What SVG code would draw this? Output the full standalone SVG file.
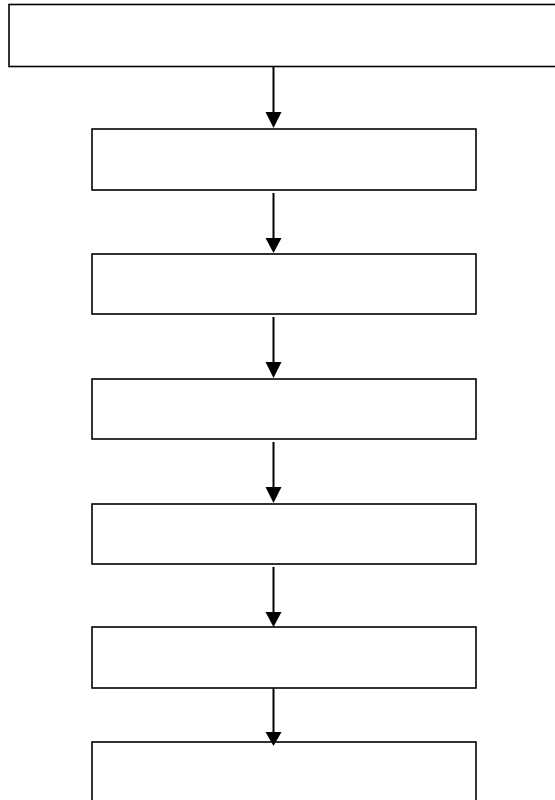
<svg xmlns="http://www.w3.org/2000/svg" width="555" height="800" viewBox="0 0 555 800">
<style>
.box{fill:#fff;stroke:#000;stroke-width:1.6}
.conn{stroke:#000;stroke-width:2;fill:none}
.head{fill:#000}
</style>
<rect width="555" height="800" fill="#fff"/>
<g id="node1"><rect class="box" x="9" y="4.5" width="560" height="62"/></g>
<g id="node2"><rect class="box" x="92" y="129" width="384" height="61"/></g>
<g id="node3"><rect class="box" x="92" y="254" width="384" height="60"/></g>
<g id="node4"><rect class="box" x="92" y="379" width="384" height="60"/></g>
<g id="node5"><rect class="box" x="92" y="504" width="384" height="60"/></g>
<g id="node6"><rect class="box" x="92" y="627" width="384" height="61"/></g>
<g id="node7"><rect class="box" x="92" y="742" width="384" height="80"/></g>
<g id="connectors">
<line class="conn" x1="273.5" y1="66.5" x2="273.5" y2="113"/>
<polygon class="head" points="265.5,112 281.5,112 273.5,128"/>
<line class="conn" x1="273.5" y1="193" x2="273.5" y2="239"/>
<polygon class="head" points="265.5,238 281.5,238 273.5,253"/>
<line class="conn" x1="273.5" y1="317" x2="273.5" y2="363"/>
<polygon class="head" points="265.5,362 281.5,362 273.5,378"/>
<line class="conn" x1="273.5" y1="442" x2="273.5" y2="488"/>
<polygon class="head" points="265.5,487 281.5,487 273.5,503"/>
<line class="conn" x1="273.5" y1="567" x2="273.5" y2="613"/>
<polygon class="head" points="265.5,612 281.5,612 273.5,627"/>
<line class="conn" x1="273.5" y1="688" x2="273.5" y2="733"/>
<polygon class="head" points="265.5,732 281.5,732 273.5,746"/>
</g>
</svg>
